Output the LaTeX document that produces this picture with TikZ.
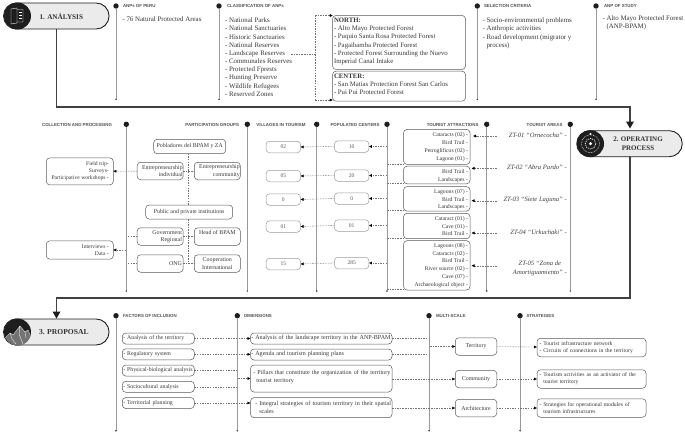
\documentclass[tikz,border=0pt]{standalone}
\usepackage{fontspec}
\setmainfont{Liberation Serif}
\setsansfont{Liberation Sans}
\usetikzlibrary{arrows.meta}
\definecolor{ink}{HTML}{1E1E1E}
\definecolor{tl}{HTML}{999999}
\definecolor{bx}{HTML}{5A5A5A}
\definecolor{pill}{HTML}{EBEBEB}
\tikzset{
 x=1pt,y=-1pt,
 every node/.style={inner sep=0pt,outer sep=0pt},
 body/.style={font=\fontsize{6.9}{8.17}\selectfont,text=black!78,align=left,anchor=north west},
 rbody/.style={font=\fontsize{5.7}{7.9}\selectfont,text=black!78,align=right,anchor=north east},
 head/.style={font=\sffamily\bfseries\fontsize{4.4}{5}\selectfont,text=black!68},
 rb/.style={draw=bx,line width=.5pt,rounded corners=3.5pt,font=\fontsize{5.9}{7.2}\selectfont,text=black!78,align=center},
 rr/.style={rb,minimum width=46pt,minimum height=17.5pt,text width=43.5pt,align=right},
 gb/.style={draw=black!38,line width=.5pt,rounded corners=3.5pt,font=\fontsize{5.6}{7}\selectfont,text=black!65,align=center,minimum width=34.5pt,minimum height=11.5pt},
 ab/.style={draw=bx,line width=.5pt,rounded corners=3.5pt,minimum width=66.5pt,anchor=north west},
 tline/.style={draw=tl,line width=.6pt},
 dot/.style={circle,fill=ink,minimum size=5.4pt},
 endd/.style={circle,fill=ink,minimum size=1.6pt},
 dl/.style={draw=black!55,line width=.35pt,dash pattern=on 1.5pt off 1.1pt},
 da/.style={dl,-{Latex[length=3pt,width=3pt,fill=black,black]}},
 heavy/.style={draw=ink!85,line width=1.4pt},
 pillbox/.style={draw=ink,line width=.9pt,fill=pill,rounded corners=12.9pt,minimum width=105.5pt,minimum height=26pt},
 zt/.style={font=\itshape\fontsize{6.6}{9}\selectfont,text=black!75},
 lb/.style={rb,minimum width=72pt,minimum height=11pt,text width=70pt,align=left,font=\fontsize{5.8}{7}\selectfont},
 db/.style={draw=bx,line width=.5pt,rounded corners=3.5pt,anchor=north west,font=\fontsize{6.1}{7.8}\selectfont,text=black!78,align=left,text width=140pt,inner xsep=.75pt},
 sc/.style={rb,minimum width=41.5pt,minimum height=17.5pt},
 sb/.style={draw=bx,line width=.5pt,rounded corners=3.5pt,font=\fontsize{5.7}{7.2}\selectfont,text=black!78,align=left,text width=104pt,inner xsep=2.5pt,minimum height=18.5pt},
}
\newcommand{\tlx}[5]{%
 \node[dot] (#1t) at (#2,#3) {};
 \node[endd] (#1b) at (#2,#4) {};
 \draw[tline,line width=#5] (#1t) -- (#1b);
}
\begin{document}
\begin{tikzpicture}
\useasboundingbox (0,0) rectangle (685,436);
\fill[white] (0,0) rectangle (685,436);

% heavy connectors
\coordinate (c1a) at (56.5,107); \coordinate (c1b) at (630,107);
\coordinate (c3a) at (630,298); \coordinate (c3b) at (56.5,298);
\coordinate (t2) at (630,128.5); \coordinate (t3) at (56.5,318.5);
\draw[heavy] (56.5,25) -- (c1a) -- (c1b) -- (630,122);
\fill[ink] (626,121.5) -- (634,121.5) -- (t2) -- cycle;
\draw[heavy] (630,150) -- (c3a) -- (c3b) -- (56.5,312);
\fill[ink] (52.5,311.5) -- (60.5,311.5) -- (t3) -- cycle;

% section 1
\node[pillbox] (p1) at (56.3,16) {};
\fill[ink] (17.5,16) circle (13.5);
\node[anchor=west,font=\bfseries\fontsize{7.2}{9}\selectfont,text=black!80] (p1t) at (39.5,16) {1. ANÁLYSIS};
\draw[white,line width=.4pt] (11,9) -- (17,8) -- (17,23) -- (11,24) -- cycle (17,9.5) -- (23,9.5) -- (23,22) -- (17,22);
\draw[white,line width=.5pt] (19,12) -- (22,12) (19,15) -- (22,15) (19,18) -- (22,18);

% section 2
\node[pillbox] (p2) at (629.5,143.7) {};
\fill[ink] (590.5,143.7) circle (13.5);
\draw[white,line width=.5pt,dash pattern=on .7pt off .9pt] (590.5,143.7) circle (9);
\draw[white,line width=.7pt,dash pattern=on 1pt off 1pt] (590.5,143.7) circle (5.3);
\fill[white] (590.5,143.7) circle (1.7) (590.5,134) circle (1.1);
\node[font=\bfseries\fontsize{7}{9}\selectfont,text=black!80,align=center] (p2t) at (638,143.7) {2. OPERATING\\PROCESS};

% section 3
\node[pillbox] (p3) at (56.3,332) {};
\fill[ink] (17.5,332) circle (13.5);
\begin{scope}
\clip (17.5,332) circle (13.5);
\fill[black!55] (4,339) -- (10,333) -- (13,335) -- (20,326) -- (25,332) -- (28,330) -- (32,340) -- (32,346) -- (4,346) -- cycle;
\draw[white,line width=.3pt] (4,339) -- (10,333) -- (13,335) -- (20,326) -- (25,332) -- (28,330) -- (32,339) (10,333) -- (12,339) -- (16,344) (20,326) -- (19,334) -- (23,344) (25,332) -- (26,338);
\end{scope}
\node[anchor=west,font=\bfseries\fontsize{7.6}{9}\selectfont,text=black!80] (p3t) at (39,332) {3. PROPOSAL};

% row 1
\tlx{a}{116}{6}{99.3}{.8pt}
\tlx{b}{219}{6}{99.3}{.5pt}
\tlx{c}{477.3}{6}{99.3}{.5pt}
\tlx{d}{596}{6}{99.3}{.5pt}
\node[head,anchor=west] at (123,6) {ANPs OF PERU};
\node[head,anchor=west] at (227,6) {CLASSIFICATION OF ANPs};
\node[head,anchor=west] at (484,6) {SELECTION CRITERIA};
\node[head,anchor=west] at (604,6) {ANP OF STUDY};

\node[body] at (122.5,17) {- 76 Natural Protected Areas};
\node[body] (cl) at (225,18) {- National Parks\\- National Sanctuaries\\- Historic Sanctuaries\\- National Reserves\\- Landscape Reserves\\- Communales Reserves\\- Protected Fprests\\- Hunting Preserve\\- Wildlife Refugees\\- Reserved Zones};
\node[body] at (482.5,18) {- Socio-environmental problems\\- Anthropic activities\\- Road development (migrator y\\\phantom{- }process)};
\node[body] at (602.5,16) {- Alto Mayo Protected Forest\\\phantom{- }(ANP-BPAM)};

\node[ab,minimum width=133pt,minimum height=54pt] (nb) at (332.5,15.5) {};
\node[body,font=\fontsize{6.8}{8.17}\selectfont] at (334,18) {\textbf{NORTH:}\\- Alto Mayo Protected Forest\\- Puquio Santa Rosa Protected Forest\\- Pagaibamba Protected Forest\\- Protected Forest Surrounding the Nuevo\\Imperial Canal Intake};
\node[ab,minimum width=133pt,minimum height=30pt] (cb) at (332.5,71.2) {};
\node[body,font=\fontsize{6.8}{8.17}\selectfont] at (334,74) {\textbf{CENTER:}\\- San Matias Protection Forest San Carlos\\- Pui Pui Protected Forest};
\coordinate (j1) at (315,54);
\coordinate (lr) at (291,54);
\coordinate (jt) at (315,15.5);
\coordinate (jb) at (315,100);
\draw[dl] (lr) -- (j1);
\draw[dl] (jb) -- (jt);
\draw[da] (jt) -- (332.8,15.5);
\draw[da] (jb) -- (332.8,100);

% row 2
\tlx{e}{126.3}{124.3}{291}{.7pt}
\tlx{f}{247.3}{124.3}{291}{.5pt}
\tlx{g}{316.7}{124.3}{291}{.5pt}
\tlx{h}{387}{124.3}{291}{.5pt}
\tlx{i}{486.7}{124.3}{291}{.5pt}
\tlx{j}{570.3}{124.3}{291}{.6pt}
\node[head,anchor=east] at (112,124.5) {COLLECTION AND PROCESSING};
\node[head,anchor=east] at (239,124.5) {PARTICIPATION GROUPS};
\node[head,anchor=east] at (305.5,124.5) {VILLAGES IN TOURISM};
\node[head,anchor=west] at (330.5,124.5) {POPULATED CENTERS};
\node[head,anchor=east] at (478.5,124.5) {TOURIST ATTRACTIONS};
\node[head,anchor=east] at (562.5,124.5) {TOURIST AREAS};

\node[rb,minimum width=67pt,minimum height=27pt] (fs) at (79.8,171.4) {};
\node[rbody,font=\fontsize{5.6}{7.1}\selectfont] at (108.8,161.5) {Field trip-\\Surveys-\\Participative workshops -};
\node[rb,minimum width=67pt,minimum height=18.3pt] (id) at (79.8,250) {};
\node[rbody,font=\fontsize{5.6}{7.1}\selectfont] at (108.8,244.5) {Interviews -\\Data -};

\node[rb,minimum width=72pt,minimum height=14.4pt] (pb) at (189.7,146.5) {Pobladores del BPAM y ZA};
\node[rr,inner xsep=.5pt,text width=45pt] (ei) at (160.2,171) {Entrepreneurship\\individual};
\node[rr,inner xsep=.5pt,text width=45pt] (ec) at (217.3,171) {Entrepreneurship\\community};
\node[rb,minimum width=87pt,minimum height=14pt] (pi) at (189.2,212) {Public and private institutions};
\node[rr,inner xsep=1.2pt] (gr) at (160.2,236.5) {Government\\Regional};
\node[rb,minimum width=46pt,minimum height=17.5pt] (hb) at (217.3,236.5) {Head of BPAM\\\phantom{x}};
\node[rr,inner xsep=1.2pt] (on) at (160.2,263.5) {ONG};
\node[rb,minimum width=46pt,minimum height=17.5pt] (ci) at (217.3,263.5) {Cooperation\\International};
\coordinate (vx) at (188.4,0);
\coordinate (ve) at (188.4,263.5);
\draw[dl] (pb.south -| vx) -- (pi.north -| vx);
\draw[dl] (pi.south -| vx) -- (ve);
\draw[dl] (ei) -- (ec);
\draw[dl] (gr) -- (hb);
\draw[dl] (on) -- (ci);
\draw[da] (ei) -- (fs);
\draw[dl] (gr.west) -- (127,236.5);
\draw[dl] (on.west) -- (127,263.5);
\draw[da] (126,250) -- (id);

\foreach \n/\t/\y in {v1/02/147,v2/05/176,v3/0/199.5,v4/01/226.5,v5/15/264}{
 \node[gb] (\n) at (283.3,\y) {\t};}
\foreach \n/\t/\y in {q1/10/146.5,q2/20/175.5,q3/0/198.5,q4/01/225.5,q5/285/263}{
 \node[gb] (\n) at (351.7,\y) {\t};}
\foreach \i in {1,...,5}{
 \draw[da] (q\i.west) -- (v\i.east);
 \draw[da] (ht |- q\i) -- (q\i.east);
}

\node[ab,minimum height=35pt] (a1) at (403.5,129.4) {};
\node[rbody] at (468,132.8) {Cataracts (02) -\\Bird Trail -\\Petroglíficos (02) -\\Lagoon (01) -};
\node[ab,minimum height=17.6pt] (a2) at (403.5,166.2) {};
\node[rbody] at (468,169.2) {Bird Trail -\\Landscapes -};
\node[ab,minimum height=24.5pt] (a3) at (403.5,186.6) {};
\node[rbody] at (468,189.2) {Lagoons (07) -\\Bird Trail -\\Landscapes -};
\node[ab,minimum height=25.4pt] (a4) at (403.5,213.3) {};
\node[rbody] at (468,216.2) {Cataract (01) -\\Cave (01) -\\Bird Trail -};
\node[ab,minimum height=49.3pt] (a5) at (403.5,240.7) {};
\node[rbody] at (468,243.2) {Lagoons (08) -\\Cataracts (02) -\\Bird Trail -\\River source (02) -\\Cave (07) -\\Archaeological object -};
\coordinate (h1) at (387,164); \coordinate (h2) at (387,183); \coordinate (h3) at (387,210.5); \coordinate (h4) at (387,238); \coordinate (h5) at (387,289);
\draw[dl] (h1) -- (404,164);
\draw[dl] (h2) -- (404,183);
\draw[dl] (h3) -- (404,210.5);
\draw[dl] (h4) -- (404,238);
\draw[dl] (h5) -- (404,289);

\node[zt,anchor=east] (z1) at (566.7,135) {ZT-01 ``Ornecocha'' -};
\node[zt,anchor=east] (z2) at (566.7,167.3) {ZT-02 ``Abra Pardo'' -};
\node[zt,anchor=east] (z3) at (566.7,200) {ZT-03 ``Siete Laguna'' -};
\node[zt,anchor=east] (z4) at (566.7,232.3) {ZT-04 ``Urkuchaki'' -};
\node[zt,anchor=east,align=center] (z5) at (566.7,268.8) {ZT-05 ``Zona de\\Amortiguamiento'' -};
\foreach \a/\y/\e in {a1/136/473,a2/168.3/471.5,a3/200.7/471.5,a4/233/471.5,a5/265.7/471.5}{
 \draw[da] (496.7,\y) -- (\e,\y);
}

% row 3
\tlx{k}{116}{315.7}{430.7}{.8pt}
\tlx{l}{237.3}{315.7}{430.7}{.5pt}
\tlx{m}{429}{315.7}{430.7}{.8pt}
\tlx{n}{520}{315.7}{430.7}{.6pt}
\node[head,anchor=west] at (123,315.7) {FACTORS OF INCLUSION};
\node[head,anchor=west] at (244,315.7) {DIMENSIONS};
\node[head,anchor=west] at (436,315.7) {MULTI-SCALE};
\node[head,anchor=west] at (526.5,315.7) {STRATEGIES};

\node[lb] (f1) at (158.3,338.5) {\mbox{- Analysis of the territory}};
\node[lb] (f2) at (158.3,354.3) {\mbox{- Regulatory system}};
\node[lb] (f3) at (158.3,370.5) {\mbox{- Physical-biological analysis}};
\node[lb] (f4) at (158.3,386.8) {\mbox{- Sociocultural analysis}};
\node[lb] (f5) at (158.3,403) {\mbox{- Territorial planning}};

\node[db,minimum height=11pt] (d1) at (250.5,333) {\mbox{- Analysis of the landscape territory in the ANP-BPAM}};
\node[db,minimum height=11pt] (d2) at (250.5,349) {\mbox{- Agenda and tourism planning plans}};
\node[db,minimum height=27pt] (d3) at (250.5,365) {\mbox{\hspace{2pt}- Pillars that constitute the organization of the territory}\\\mbox{\hspace{5pt}tourist territory}\\[-3pt]\phantom{x}};
\node[db,minimum height=20pt] (d4) at (250.5,397.7) {\mbox{\hspace{4pt}- Integral strategies of tourism territory in their spatial}\\\mbox{\hspace{8pt}scales}};

\draw[da] (f1) -- (d1.west |- f1);
\draw[da] (f2) -- (d2.west |- f2);
\draw[da] (f5) -- (d4.west |- f5);
\coordinate (f3e) at (236,370.5);
\coordinate (f4e) at (236,386.8);
\coordinate (d3i) at (238,378.5);
\draw[dl] (f3) -- (f3e);
\draw[dl] (f4) -- (f4e);
\draw[da] (d3i) -- (d3.west);

\node[sc] (s1) at (476,346.5) {Territory};
\node[sc] (s2) at (476,379) {Community};
\node[sc] (s3) at (476,408) {Architecture};

\coordinate (d1e) at (427,338.5);
\coordinate (d2e) at (427,354.5);
\coordinate (s1i) at (430,346.5);
\draw[dl] (d1.east) -- (d1e);
\draw[dl] (d2.east) -- (d2e);
\draw[da] (s1i) -- (s1);
\draw[da] (d3.east |- s2) -- (s2);
\draw[da] (d4.east |- s3) -- (s3);

\node[sb] (t1) at (591.5,347.5) {\mbox{- Tourist infrastructure network}\\\mbox{- Circuits of connections in the territory}};
\node[sb] (t2) at (591.5,379) {\mbox{- Tourism activities as an activator of the}\\\mbox{\phantom{- }tourist territory}};
\node[sb] (t3) at (591.5,408) {\mbox{- Strategies for operational modules of}\\\mbox{\phantom{- }tourism infrastructures}};
\draw[da] (s1) -- (t1);
\draw[da] (s2) -- (t2);
\draw[da] (s3) -- (t3);
\end{tikzpicture}
\end{document}
